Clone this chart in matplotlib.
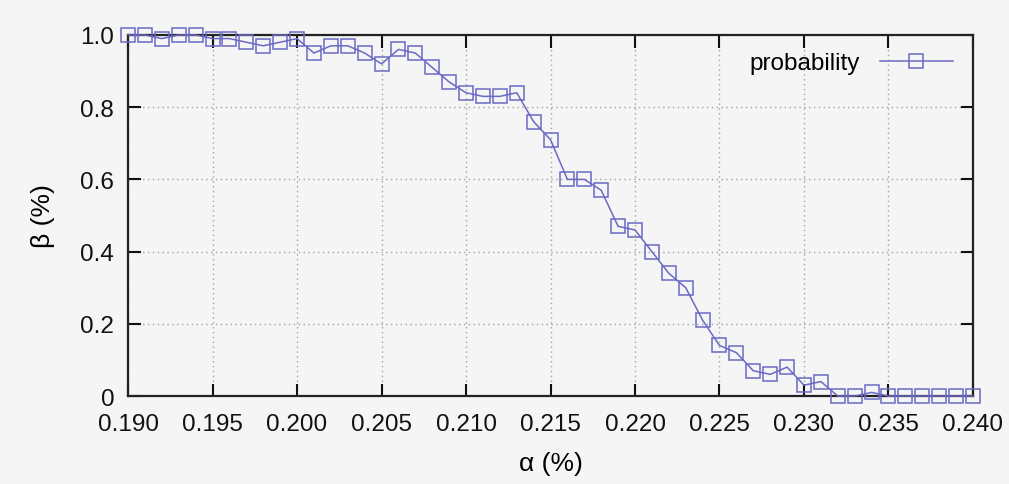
import matplotlib
matplotlib.use('Agg')
import matplotlib.pyplot as plt
from matplotlib.ticker import FuncFormatter

# alpha (%) sampled every 0.001 from 0.190 to 0.240
ALPHA = [0.190, 0.191, 0.192, 0.193, 0.194, 0.195, 0.196, 0.197, 0.198, 0.199,
         0.200, 0.201, 0.202, 0.203, 0.204, 0.205, 0.206, 0.207, 0.208, 0.209,
         0.210, 0.211, 0.212, 0.213, 0.214, 0.215, 0.216, 0.217, 0.218, 0.219,
         0.220, 0.221, 0.222, 0.223, 0.224, 0.225, 0.226, 0.227, 0.228, 0.229,
         0.230, 0.231, 0.232, 0.233, 0.234, 0.235, 0.236, 0.237, 0.238, 0.239,
         0.240]
PROBABILITY = [1.00, 1.00, 0.99, 1.00, 1.00, 0.99, 0.99, 0.98, 0.97, 0.98,
               0.99, 0.95, 0.97, 0.97, 0.95, 0.92, 0.96, 0.95, 0.91, 0.87,
               0.84, 0.83, 0.83, 0.84, 0.76, 0.71, 0.60, 0.60, 0.57, 0.47,
               0.46, 0.40, 0.34, 0.30, 0.21, 0.14, 0.12, 0.07, 0.06, 0.08,
               0.03, 0.04, 0.00, 0.00, 0.01, 0.00, 0.00, 0.00, 0.00, 0.00,
               0.00]
X_TICKS = [0.190, 0.195, 0.200, 0.205, 0.210, 0.215, 0.220, 0.225, 0.230, 0.235, 0.240]
Y_TICKS = [0, 0.2, 0.4, 0.6, 0.8, 1.0]

BG = '#f5f5f5'
LINE_COLOR = '#6a6ac4'

plt.rcParams['font.family'] = ['Liberation Sans', 'DejaVu Sans']

fig = plt.figure(figsize=(10.09, 4.85), dpi=100, facecolor=BG)
ax = fig.add_axes([0.1269, 0.1814, 0.8374, 0.7444])
ax.set_facecolor(BG)

ax.plot(ALPHA, PROBABILITY, color=LINE_COLOR, lw=1.1, marker='s', ms=9.5,
        mfc='none', mec=LINE_COLOR, mew=1.1, clip_on=False, zorder=3,
        label='probability')

ax.set_xlim(0.190, 0.240)
ax.set_ylim(0, 1.0)
ax.set_xticks(X_TICKS)
ax.set_yticks(Y_TICKS)
ax.xaxis.set_major_formatter(FuncFormatter(lambda v, p: f'{v:.3f}'))
ax.yaxis.set_major_formatter(FuncFormatter(lambda v, p: '0' if abs(v) < 1e-9 else f'{v:.1f}'))

ax.tick_params(direction='in', length=9, width=1.5, top=True, right=True,
               labelsize=17.5, colors='#111111')
ax.tick_params(axis='x', pad=12)
ax.tick_params(axis='y', pad=10)
for s in ax.spines.values():
    s.set_linewidth(1.6)
    s.set_color('#222222')

ax.grid(True, color='#a0a0a0', linestyle=(0, (1, 2.5)), linewidth=1.0)

ax.set_xlabel('α (%)', fontsize=19, labelpad=12)
ax.set_ylabel('β (%)', fontsize=19, labelpad=18)

leg = ax.legend(loc='upper right', frameon=False, fontsize=17.5, markerfirst=False,
                handlelength=3.0, handletextpad=0.8, borderaxespad=0.3,
                bbox_to_anchor=(0.996, 1.0))

fig.savefig('out.png', dpi=100, facecolor=BG)
